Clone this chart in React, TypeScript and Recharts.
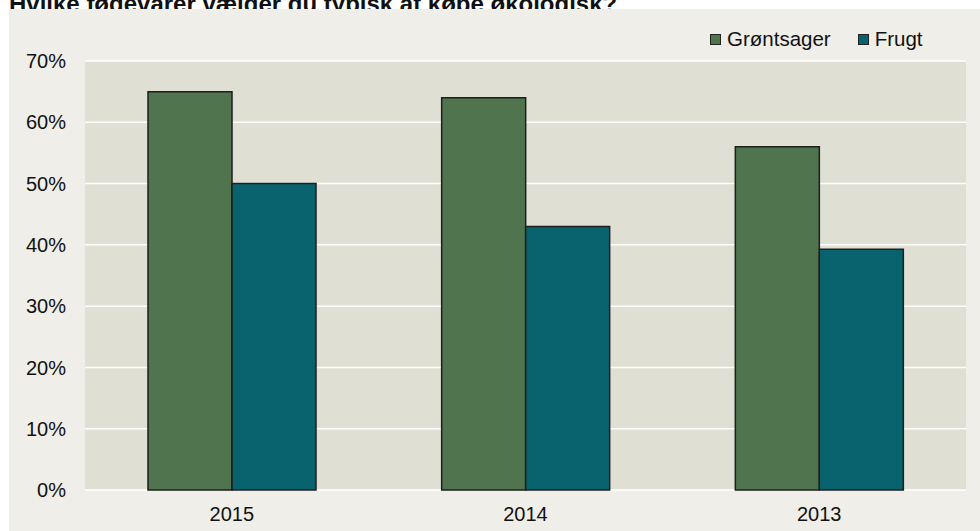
import React from "react";
import { BarChart, Bar, XAxis, YAxis, CartesianGrid, Legend } from "recharts";

const title = "Hvilke fødevarer vælger du typisk at købe økologisk?";
const categories = ["2015", "2014", "2013"];
const groentsager = [65, 64, 56];
const frugt = [50, 43, 39.3];
const yTicks = [0, 10, 20, 30, 40, 50, 60, 70];
const seriesNames = ["Grøntsager", "Frugt"];

const data = categories.map((c, i) => ({ year: c, g: groentsager[i], f: frugt[i] }));

const FONT = "'Liberation Sans', Arial, Helvetica, sans-serif";
const GREEN = "#4F744E";
const TEAL = "#08636F";

const renderLegend = (props: any) => {
  const payload = [...(props.payload || [])].sort(
    (a: any, b: any) => seriesNames.indexOf(a.value) - seriesNames.indexOf(b.value)
  );
  return (
    <div style={{ display: "flex", alignItems: "center", fontFamily: FONT, fontSize: 20.5, color: "#111", whiteSpace: "nowrap" }}>
      {payload.map((p: any, i: number) => (
        <div key={i} style={{ display: "flex", alignItems: "center", marginRight: i === 0 ? 27 : 0 }}>
          <span style={{ display: "inline-block", width: 9, height: 9, background: p.color, border: "1.5px solid #222", marginRight: 6 }} />
          <span>{p.value}</span>
        </div>
      ))}
    </div>
  );
};

export default function App() {
  return (
    <div style={{ position: "absolute", left: 0, top: 0, width: 980, height: 531, overflow: "hidden", background: "#fff" }}>
      <svg width={980} height={30} style={{ position: "absolute", left: 0, top: 0 }}>
        <text x={9} y={12} fontFamily={FONT} fontWeight="bold" fontSize={24} fill="#111">{title}</text>
      </svg>
      <div style={{ position: "absolute", left: 9, top: 9, width: 971, height: 522, background: "#EFEEE8" }}>
        <BarChart width={971} height={522} data={data} margin={{ top: 52, right: 14, bottom: 0, left: 0 }} barSize={84} barGap={0}>
          <CartesianGrid vertical={false} stroke="#FFFFFF" strokeWidth={1.5} fill="#E0DFD4" />
          <XAxis dataKey="year" height={41} axisLine={false} tickLine={false} tickSize={0} tickMargin={17}
            tick={{ fontFamily: FONT, fontSize: 20, fill: "#111" }} />
          <YAxis width={76} domain={[0, 70]} ticks={yTicks} axisLine={false} tickLine={false} tickSize={0} tickMargin={19}
            tickFormatter={(v: number) => `${v}%`} tick={{ fontFamily: FONT, fontSize: 20, fill: "#111" }} />
          <Legend layout="horizontal" verticalAlign="middle" align="center" content={renderLegend}
            wrapperStyle={{ position: "absolute", top: 18, left: 701, width: 260, height: 24 }} />
          <Bar dataKey="g" name={seriesNames[0]} fill={GREEN} stroke="#1E1E1E" strokeWidth={1.5} isAnimationActive={false} />
          <Bar dataKey="f" name={seriesNames[1]} fill={TEAL} stroke="#1E1E1E" strokeWidth={1.5} isAnimationActive={false} />
        </BarChart>
      </div>
    </div>
  );
}
